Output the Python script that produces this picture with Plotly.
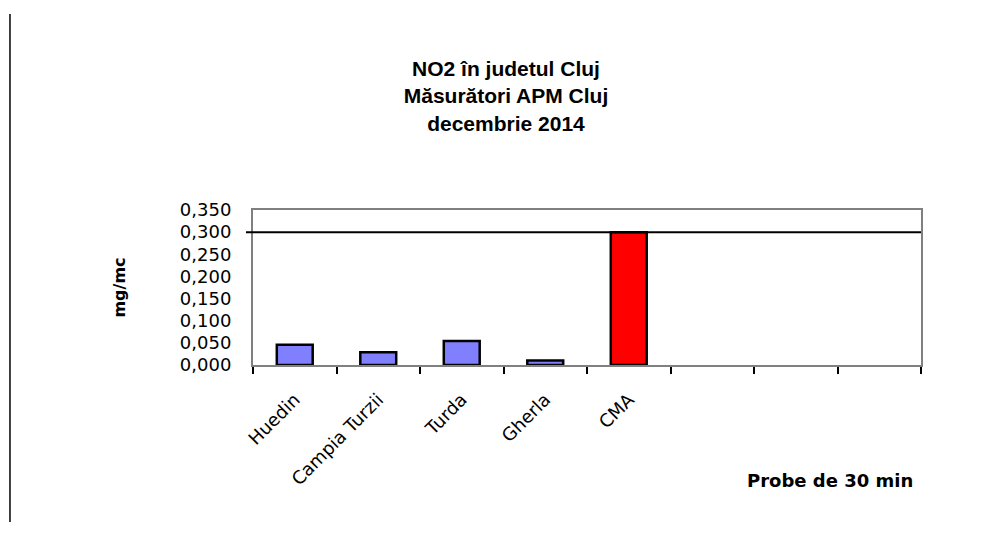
import plotly.graph_objects as go

# ---- data ----
categories = ["Huedin", "Campia Turzii", "Turda", "Gherla", "CMA", " ", "  ", "   "]
values = [0.046, 0.029, 0.054, 0.010, 0.300, None, None, None]
bar_colors = ["#8080FF", "#8080FF", "#8080FF", "#8080FF", "#FF0000",
              "#8080FF", "#8080FF", "#8080FF"]
limit = 0.300
y_ticks = [0.0, 0.05, 0.10, 0.15, 0.20, 0.25, 0.30, 0.35]
title_lines = ["NO2 în judetul Cluj", "Măsurători APM Cluj", "decembrie 2014"]
y_title = "mg/mc"
x_title = "Probe de 30 min"

fig = go.Figure()
fig.add_trace(go.Bar(
    x=categories, y=values,
    marker=dict(color=bar_colors, line=dict(color="black", width=2.5)),
    width=0.43, showlegend=False, hoverinfo="x+y",
))

# limit line at 0,300
fig.add_shape(type="line", xref="paper", yref="y",
              x0=-0.0105, x1=1, y0=limit, y1=limit,
              line=dict(color="black", width=2))
# left vertical rule of the page
fig.add_shape(type="line", xref="paper", yref="paper",
              x0=-0.3638, x1=-0.3638, y0=-1.013, y1=2.265,
              line=dict(color="black", width=1.5))

fig.update_layout(
    width=996, height=537,
    margin=dict(l=253, r=75, t=210, b=172),
    paper_bgcolor="white", plot_bgcolor="white",
    separators=",.",
    bargap=0.57,
    title=dict(text="<br>".join(title_lines), x=506/996, xanchor="center",
               y=1 - 76/537, yanchor="top", xref="container", yref="container",
               font=dict(family="Liberation Sans", size=21, color="black",
                         weight="bold")),
    font=dict(family="DejaVu Sans", color="black"),
)

fig.update_xaxes(
    type="category", categoryorder="array", categoryarray=categories,
    showline=True, linecolor="#808080", linewidth=2, mirror=True,
    ticks="outside", tickson="boundaries", ticklen=7, tickwidth=2,
    tickcolor="black", tickangle=-45, ticklabelstandoff=15,
    tickfont=dict(family="DejaVu Sans", size=18, color="black"),
    showgrid=False, zeroline=False,
)
fig.update_yaxes(
    range=[0, 0.35], tickvals=y_ticks, tickformat=".3f",
    showline=True, linecolor="#808080", linewidth=2, mirror=True,
    ticks="", ticklabelstandoff=16,
    tickfont=dict(family="DejaVu Sans", size=18, color="black"),
    showgrid=False, zeroline=False,
    title=dict(text=y_title, standoff=50,
               font=dict(family="DejaVu Sans", size=16, color="black",
                         weight="bold")),
)

fig.add_annotation(text=x_title, xref="paper", yref="paper",
                   x=(915 - 253) / 668, y=(365 - 480) / 155,
                   xanchor="right", yanchor="middle", showarrow=False,
                   font=dict(family="DejaVu Sans", size=18, color="black",
                             weight="bold"))

fig.write_html("out.html", config={"displayModeBar": False},
               post_script="document.body.style.margin='0';")
